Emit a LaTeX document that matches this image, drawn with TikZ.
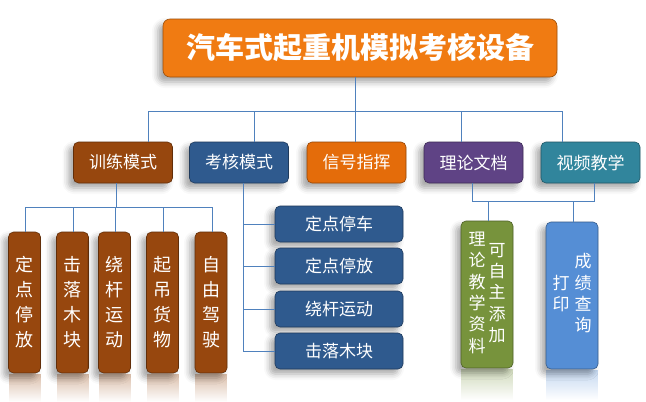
\documentclass[tikz,border=0pt]{standalone}
\usepackage{fontspec}
\newfontfamily\cjk{Noto Sans CJK SC}
\usetikzlibrary{shadows.blur,fadings,calc}
\definecolor{titleorange}{RGB}{240,123,18}
\definecolor{rust}{RGB}{151,71,14}
\definecolor{navy}{RGB}{47,90,142}
\definecolor{signalorange}{RGB}{228,108,10}
\definecolor{plum}{RGB}{95,67,133}
\definecolor{teal}{RGB}{49,133,156}
\definecolor{olive}{RGB}{119,147,60}
\definecolor{sky}{RGB}{85,142,213}
\definecolor{linkblue}{RGB}{79,129,189}
\begin{document}
\begin{tikzpicture}[x=1pt, y=-1pt,
        mbox/.style = {rounded corners = 5pt, draw = #1!65!black, line width = 0.6pt, fill = #1, text = white,
            inner sep = 0pt, font = \cjk\fontsize{17}{22}\selectfont,
            blur shadow = {shadow xshift = -5pt, shadow yshift = -5pt, shadow blur radius = 6pt, shadow opacity = 35}},
        mlevel/.style = {mbox = #1, minimum width = 99pt, minimum height = 41pt},
        mtall/.style = {mbox = #1, minimum width = 32pt, minimum height = 141pt, align = center,
            font = \cjk\fontsize{18}{25}\selectfont},
        mwide/.style = {mbox = #1, minimum width = 128pt, minimum height = 36pt},
        mcol/.style = {mbox = #1, minimum width = 52pt, minimum height = 147pt},
        mreflect/.style = {fill = #1, opacity = 0.35, path fading = south},
        link/.style = {linkblue, line width = 0.9pt}
    ]
        \useasboundingbox (0,0) rectangle (646,402);

        \node[mbox = titleorange, minimum width = 394pt, minimum height = 58pt, rounded corners = 7pt,
            font = \cjk\bfseries\fontsize{29}{30}\selectfont] (title) at (360,48) {汽车式起重机模拟考核设备};

        \node[mlevel = rust] (train) at (123,162.5) {训练模式};
        \node[mlevel = navy] (exam) at (239,162.5) {考核模式};
        \node[mlevel = signalorange] (signal) at (356.5,162.5) {信号指挥};
        \node[mlevel = plum] (theory) at (473.5,162.5) {理论文档};
        \node[mlevel = teal] (video) at (590.5,162.5) {视频教学};

        % training items, written top to bottom
        \foreach \i/\x/\txt in {1/24.5/定\\点\\停\\放, 2/72.5/击\\落\\木\\块, 3/114.5/绕\\杆\\运\\动,
            4/162.5/起\\吊\\货\\物, 5/211/自\\由\\驾\\驶} {
            \fill[mreflect = rust] (\x-16,374) rectangle (\x+16,402);
            \node[mtall = rust] (t\i) at (\x,302.5) {\txt};
        }

        \foreach \i/\y/\txt in {1/224/定点停车, 2/266/定点停放, 3/309/绕杆运动, 4/351/击落木块}
            \node[mwide = navy] (e\i) at (339,\y) {\txt};

        \fill[mreflect = olive] (461,369) rectangle (513,400);
        \fill[mreflect = sky] (546,370) rectangle (598,400);
        \node[mcol = olive] (doc) at (487,294.5) {\renewcommand{\arraystretch}{0.97}\begin{tabular}{@{}c@{\hspace{3pt}}c@{}}
            \begin{tabular}{@{}c@{}}理\\论\\教\\学\\资\\料\end{tabular} &
            \begin{tabular}{@{}c@{}}可\\自\\主\\添\\加\end{tabular}\end{tabular}};
        \node[mcol = sky] (score) at (572,295.5) {\renewcommand{\arraystretch}{0.97}\begin{tabular}{@{}c@{\hspace{5pt}}c@{}}
            \begin{tabular}{@{}c@{}}打\\印\end{tabular} &
            \begin{tabular}{@{}c@{}}成\\绩\\查\\询\end{tabular}\end{tabular}};

        % connectors
        \coordinate (bus) at (355,111);
        \coordinate (tbus) at (116,207);
        \coordinate (dl) at (472,201);
        \coordinate (dr) at (594,201);

        \draw[link] ([xshift = -5pt]title.south) -- (bus);
        \foreach \n/\dx in {train/25, exam/15, signal/-1.5, theory/-12.5, video/-28.5}
            \draw[link] ([xshift = \dx pt]\n.north) |- (bus);

        \draw[link] ([xshift = -7pt]train.south) -- (tbus);
        \foreach \i in {1,...,5}
            \draw[link] (tbus) -| ([xshift = 1pt]t\i.north);

        \foreach \i in {1,...,4}
            \draw[link] ([xshift = 4pt]exam.south) |- (e\i.west);

        \draw[link] ([xshift = -1.5pt]theory.south) |- (dl) -- (dr) -| ([xshift = 3.5pt]video.south);
        \draw[link] ([xshift = 1pt]doc.north) -- ([xshift = 1pt]doc.north |- dl);
        \draw[link] ([xshift = 1pt]score.north) -- ([xshift = 1pt]score.north |- dl);
    \end{tikzpicture}
\end{document}
